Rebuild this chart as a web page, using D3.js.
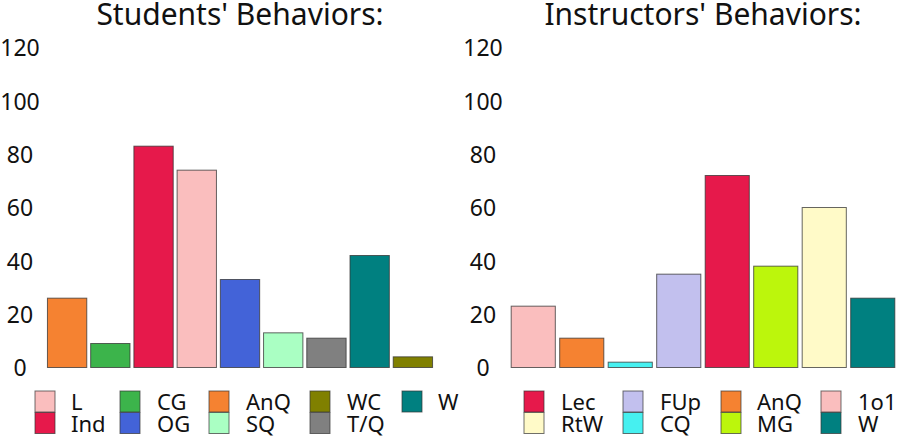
<!DOCTYPE html>
<html>
<head>
<meta charset="utf-8">
<script src="https://cdn.jsdelivr.net/npm/d3@7"></script>
<style>
  body { margin: 0; background: #fff; }
  svg { display: block; font-family: "Noto Sans", "Open Sans", sans-serif; }
</style>
</head>
<body>
<svg id="chart" width="897" height="438"></svg>
<script>
// ---- data ----
const studentCats = ["AnQ", "CG", "Ind", "L", "OG", "SQ", "T/Q", "W", "WC"];
const studentVals = [26, 9, 83, 74, 33, 13, 11, 42, 4];
const studentColors = ["#F58231", "#3CB44B", "#E6194B", "#FABEBE", "#4363D8", "#AAFFC3", "#808080", "#008080", "#808000"];
const studentLegendOrder = [["L", "Ind"], ["CG", "OG"], ["AnQ", "SQ"], ["WC", "T/Q"], ["W"]];

const instrCats = ["1o1", "AnQ", "CQ", "FUp", "Lec", "MG", "RtW", "W"];
const instrVals = [23, 11, 2, 35, 72, 38, 60, 26];
const instrColors = ["#FABEBE", "#F58231", "#46F0F0", "#C2C0EE", "#E6194B", "#BCF60C", "#FFFAC8", "#008080"];
const instrLegendOrder = [["Lec", "RtW"], ["FUp", "CQ"], ["AnQ", "MG"], ["1o1", "W"]];

const yTicks = [0, 20, 40, 60, 80, 100, 120];
const titles = ["Students' Behaviors:", "Instructors' Behaviors:"];

// ---- layout ----
const svg = d3.select("#chart");
const y = d3.scaleLinear().domain([0, 120]).range([367.5, 47.5]);

function panel(cfg) {
  const g = svg.append("g");
  const x = d3.scaleBand().domain(cfg.cats).range(cfg.xRange).paddingInner(0.09).paddingOuter(0.045);
  const color = d3.scaleOrdinal().domain(cfg.cats).range(cfg.colors);

  // title
  g.append("text")
    .attr("x", (cfg.xRange[0] + cfg.xRange[1]) / 2)
    .attr("y", 25)
    .attr("text-anchor", "middle")
    .attr("font-size", 30)
    .attr("fill", "#111")
    .text(cfg.title);

  // y axis (labels only, centered)
  const axis = d3.axisLeft(y).tickValues(yTicks).tickSize(0).tickPadding(0);
  const ag = g.append("g").attr("transform", `translate(${cfg.labelX},0)`).call(axis);
  ag.select(".domain").remove();
  ag.selectAll("text")
    .attr("text-anchor", "middle")
    .attr("x", 0)
    .attr("dy", "0.36em")
    .attr("font-size", 23)
    .attr("font-family", "'Noto Sans', 'Open Sans', sans-serif")
    .attr("fill", "#111");

  // bars
  g.selectAll("rect.bar")
    .data(cfg.cats.map((c, i) => ({ c, v: cfg.vals[i] })))
    .join("rect")
    .attr("class", "bar")
    .attr("x", d => x(d.c))
    .attr("width", x.bandwidth())
    .attr("y", d => y(d.v))
    .attr("height", d => y(0) - y(d.v))
    .attr("fill", d => color(d.c))
    .attr("stroke", "#333")
    .attr("stroke-opacity", 0.75)
    .attr("stroke-width", 1);

  // legend
  const lg = g.append("g");
  cfg.legend.forEach((col, ci) => {
    col.forEach((name, ri) => {
      const sx = cfg.legSq[ci];
      const sy = 391 + ri * 21.5;
      lg.append("rect")
        .attr("x", sx).attr("y", sy)
        .attr("width", 20).attr("height", 21)
        .attr("fill", color(name))
        .attr("stroke", "#333").attr("stroke-opacity", 0.7).attr("stroke-width", 1);
      lg.append("text")
        .attr("x", cfg.legTx[ci]).attr("y", sy + 19)
        .attr("font-size", 22)
        .attr("fill", "#111")
        .text(name);
    });
  });
}

panel({
  cats: studentCats, vals: studentVals, colors: studentColors,
  xRange: [45.5, 434.5], labelX: 20, title: titles[0],
  legend: studentLegendOrder,
  legSq: [35, 120, 209, 310, 402], legTx: [71, 157, 246, 347, 438]
});
panel({
  cats: instrCats, vals: instrVals, colors: instrColors,
  xRange: [509, 897], labelX: 483, title: titles[1],
  legend: instrLegendOrder,
  legSq: [524, 623, 721, 821], legTx: [561, 660, 757, 858]
});
</script>
</body>
</html>
